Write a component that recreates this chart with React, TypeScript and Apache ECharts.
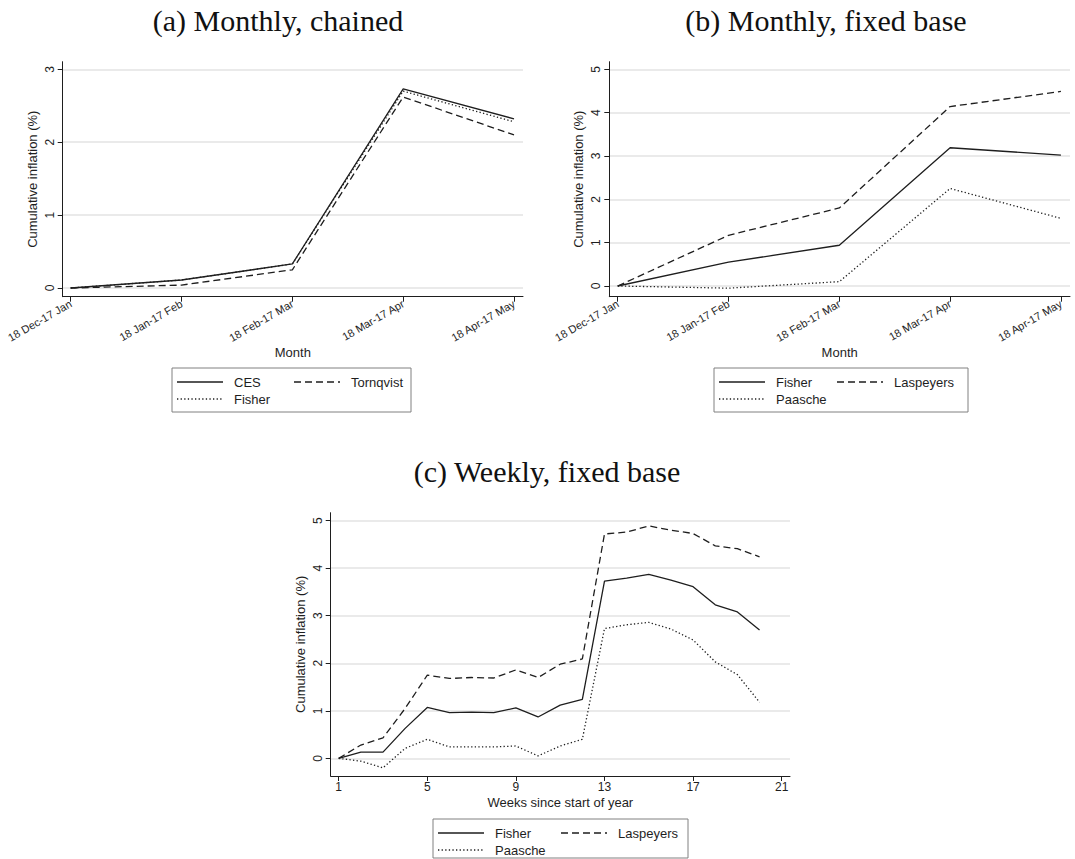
import React, { useEffect, useRef } from "react";
import * as echarts from "echarts";

// ---------- data ----------
const monthLabels = ["18 Dec-17 Jan", "18 Jan-17 Feb", "18 Feb-17 Mar", "18 Mar-17 Apr", "18 Apr-17 May"];
const monthIndex = [0, 1, 2, 3, 4];

const chainedCES = [0, 0.11, 0.33, 2.73, 2.32];
const chainedFisher = [0, 0.11, 0.33, 2.70, 2.28];
const chainedTornqvist = [0, 0.04, 0.25, 2.62, 2.10];

const fixedFisher = [0, 0.55, 0.94, 3.19, 3.02];
const fixedLaspeyres = [0, 1.17, 1.80, 4.14, 4.49];
const fixedPaasche = [0, -0.05, 0.10, 2.25, 1.56];

const weeks = [1, 2, 3, 4, 5, 6, 7, 8, 9, 10, 11, 12, 13, 14, 15, 16, 17, 18, 19, 20];
const weeklyFisher = [0, 0.13, 0.13, 0.63, 1.07, 0.96, 0.97, 0.96, 1.06, 0.87, 1.12, 1.24, 3.73, 3.79, 3.87, 3.75, 3.61, 3.23, 3.08, 2.70];
const weeklyLaspeyres = [0, 0.28, 0.43, 1.05, 1.75, 1.68, 1.70, 1.69, 1.86, 1.70, 1.98, 2.09, 4.72, 4.76, 4.89, 4.80, 4.73, 4.47, 4.41, 4.24];
const weeklyPaasche = [0, -0.06, -0.20, 0.21, 0.40, 0.24, 0.24, 0.24, 0.26, 0.05, 0.26, 0.40, 2.73, 2.81, 2.86, 2.72, 2.49, 2.03, 1.76, 1.18];

const weekTicks = [1, 5, 9, 13, 17, 21];
const yTicksA = [0, 1, 2, 3];
const yTicksB = [0, 1, 2, 3, 4, 5];
const yTicksC = [0, 1, 2, 3, 4, 5];

const titles = ["(a) Monthly, chained", "(b) Monthly, fixed base", "(c) Weekly, fixed base"];
const yName = "Cumulative inflation (%)";
const xNameMonth = "Month";
const xNameWeek = "Weeks since start of year";
const legendA = ["CES", "Tornqvist", "Fisher"];
const legendB = ["Fisher", "Laspeyers", "Paasche"];

// ---------- styles ----------
const INK = "#1e1e1e";
const SANS = "Liberation Sans, Arial, sans-serif";
const SERIF = "Liberation Serif, Times New Roman, serif";
const GRID_COLOR = "#e3e3e3";
const DASH: number[] = [7, 4];
const DOT: number[] = [1.3, 2.3];

type Dash = "solid" | number[];

function lineSeries(name: string, xs: number[], ys: number[], dash: Dash, idx: number) {
  return {
    type: "line",
    name,
    xAxisIndex: idx,
    yAxisIndex: idx,
    data: xs.map((x, i) => [x, ys[i]]),
    showSymbol: false,
    symbol: "none",
    lineStyle: { color: INK, width: 1.3, type: dash },
    z: 3,
  };
}

function monthAxis(gridIndex: number, min: number, max: number) {
  return {
    type: "value",
    gridIndex,
    min,
    max,
    name: xNameMonth,
    nameLocation: "middle",
    nameGap: 49,
    nameTextStyle: { fontFamily: SANS, fontSize: 13, color: INK },
    axisLine: { show: true, onZero: false, lineStyle: { color: INK, width: 1 } },
    axisTick: { show: true, length: 5, customValues: monthIndex, lineStyle: { color: INK, width: 1 } },
    axisLabel: {
      customValues: monthIndex,
      rotate: 30,
      fontSize: 11,
      fontFamily: SANS,
      color: INK,
      margin: 6,
      formatter: (v: number) => monthLabels[Math.round(v)] ?? "",
    },
    splitLine: { show: false },
  };
}

function yAxis(gridIndex: number, min: number, max: number, ticks: number[]) {
  return {
    type: "value",
    gridIndex,
    min,
    max,
    name: yName,
    nameLocation: "middle",
    nameGap: 24,
    nameRotate: 90,
    nameTextStyle: { fontFamily: SANS, fontSize: 13, color: INK },
    axisLine: { show: true, onZero: false, lineStyle: { color: INK, width: 1 } },
    axisTick: { show: true, length: 5, customValues: ticks, lineStyle: { color: INK, width: 1 } },
    axisLabel: { customValues: ticks, rotate: 90, fontSize: 12, fontFamily: SANS, color: INK, margin: 7 },
    splitLine: { show: true, lineStyle: { color: GRID_COLOR, width: 1.6 } },
  };
}

function legendGraphic(
  box: { x: number; y: number; w: number; h: number },
  items: { name: string; dash: Dash; x: number; y: number }[]
) {
  const children: any[] = [
    {
      type: "rect",
      shape: { x: box.x, y: box.y, width: box.w, height: box.h },
      style: { fill: "#ffffff", stroke: "#808080", lineWidth: 1 },
    },
  ];
  items.forEach((it) => {
    children.push({
      type: "line",
      shape: { x1: it.x, y1: it.y, x2: it.x + 46, y2: it.y },
      style: { stroke: INK, lineWidth: 1.4, lineDash: it.dash === "solid" ? null : it.dash },
    });
    children.push({
      type: "text",
      x: it.x + 57,
      y: it.y,
      style: { text: it.name, fontFamily: SANS, fontSize: 13, fill: INK, verticalAlign: "middle", align: "left" },
    });
  });
  return { type: "group", children };
}

function titleText(text: string, x: number, y: number) {
  return {
    type: "text",
    x,
    y,
    style: { text, fontFamily: SERIF, fontSize: 30, fill: "#111", align: "center", verticalAlign: "middle" },
  };
}

export default function App() {
  const ref = useRef<HTMLDivElement>(null);

  useEffect(() => {
    if (!ref.current) return;
    const chart = echarts.init(ref.current, undefined, { renderer: "svg" });

    const option: any = {
      animation: false,
      backgroundColor: "#ffffff",
      grid: [
        { left: 62.7, top: 61.7, width: 460.3, height: 235 },
        { left: 609.3, top: 61.7, width: 460.7, height: 235 },
        { left: 330.7, top: 512.7, width: 459.3, height: 263.3 },
      ],
      xAxis: [
        monthAxis(0, -0.072, 4.081),
        monthAxis(1, -0.076, 4.082),
        {
          type: "value",
          gridIndex: 2,
          min: 0.639,
          max: 21.375,
          name: xNameWeek,
          nameLocation: "middle",
          nameGap: 20,
          nameTextStyle: { fontFamily: SANS, fontSize: 13, color: INK },
          axisLine: { show: true, onZero: false, lineStyle: { color: INK, width: 1 } },
          axisTick: { show: true, length: 5, customValues: weekTicks, lineStyle: { color: INK, width: 1 } },
          axisLabel: { customValues: weekTicks, fontSize: 12, fontFamily: SANS, color: INK, margin: 5 },
          splitLine: { show: false },
        },
      ],
      yAxis: [
        yAxis(0, -0.119, 3.104, yTicksA),
        yAxis(1, -0.247, 5.175, yTicksB),
        yAxis(2, -0.372, 5.168, yTicksC),
      ],
      series: [
        lineSeries("Tornqvist", monthIndex, chainedTornqvist, DASH, 0),
        lineSeries("Fisher", monthIndex, chainedFisher, DOT, 0),
        lineSeries("CES", monthIndex, chainedCES, "solid", 0),

        lineSeries("Laspeyers", monthIndex, fixedLaspeyres, DASH, 1),
        lineSeries("Paasche", monthIndex, fixedPaasche, DOT, 1),
        lineSeries("Fisher", monthIndex, fixedFisher, "solid", 1),

        lineSeries("Laspeyers", weeks, weeklyLaspeyres, DASH, 2),
        lineSeries("Paasche", weeks, weeklyPaasche, DOT, 2),
        lineSeries("Fisher", weeks, weeklyFisher, "solid", 2),
      ],
      graphic: [
        titleText(titles[0], 278, 20),
        titleText(titles[1], 826, 20),
        titleText(titles[2], 547, 471),
        legendGraphic({ x: 172, y: 368, w: 239, h: 44 }, [
          { name: legendA[0], dash: "solid", x: 177, y: 382 },
          { name: legendA[1], dash: DASH, x: 294, y: 382 },
          { name: legendA[2], dash: DOT, x: 177, y: 399 },
        ]),
        legendGraphic({ x: 714, y: 368, w: 254, h: 44 }, [
          { name: legendB[0], dash: "solid", x: 719, y: 382 },
          { name: legendB[1], dash: DASH, x: 837, y: 382 },
          { name: legendB[2], dash: DOT, x: 719, y: 399 },
        ]),
        legendGraphic({ x: 433, y: 819, w: 255, h: 39 }, [
          { name: legendB[0], dash: "solid", x: 438, y: 833 },
          { name: legendB[1], dash: DASH, x: 561, y: 833 },
          { name: legendB[2], dash: DOT, x: 438, y: 850 },
        ]),
      ],
    };

    chart.setOption(option);
    return () => chart.dispose();
  }, []);

  return (
    <div
      ref={ref}
      style={{ position: "fixed", left: 0, top: 0, width: 1075, height: 859, background: "#fff" }}
    />
  );
}
